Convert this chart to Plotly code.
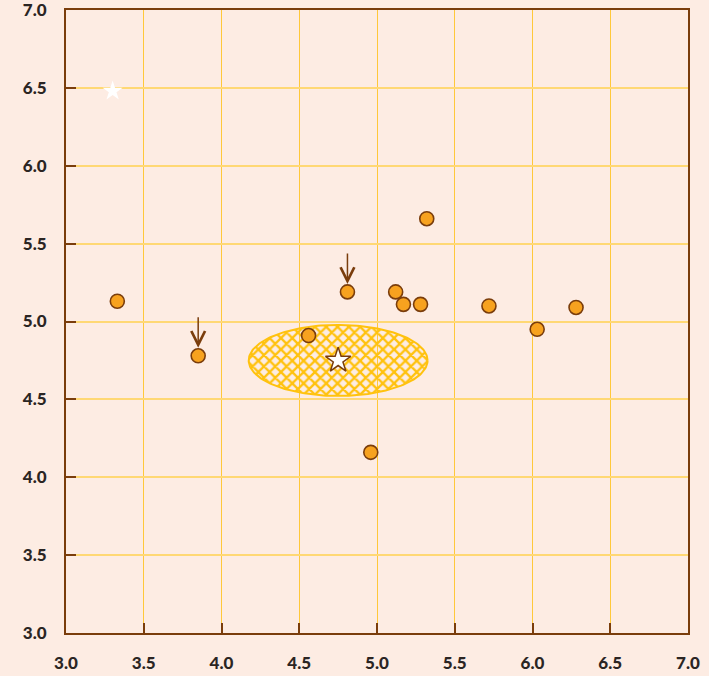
import numpy as np
import plotly.graph_objects as go

# data
pts_x = [3.33, 3.85, 4.56, 4.81, 5.12, 5.17, 5.28, 5.32, 5.72, 6.03, 6.28, 4.96]
pts_y = [5.13, 4.78, 4.91, 5.19, 5.19, 5.11, 5.11, 5.66, 5.10, 4.95, 5.09, 4.16]
center_x, center_y = 4.75, 4.75
ellipse_rx, ellipse_ry = 0.575, 0.228
white_star_x, white_star_y = 3.30, 6.48
arrow_idx = [1, 3]
tick_vals = [3.0, 3.5, 4.0, 4.5, 5.0, 5.5, 6.0, 6.5, 7.0]
tick_text = ["3.0", "3.5", "4.0", "4.5", "5.0", "5.5", "6.0", "6.5", "7.0"]

BG = "#fdece3"
BROWN = "#7a3d0c"
GRID_H = "#ffd874"
GRID_V = "#ffc83a"
ORANGE = "#f7a21f"
YEL = "#ffc20e"

t = np.linspace(0, 2 * np.pi, 200)
ex = center_x + ellipse_rx * np.cos(t)
ey = center_y + ellipse_ry * np.sin(t)

fig = go.Figure()
fig.add_trace(go.Scatter(
    x=ex, y=ey, mode="lines", fill="toself",
    line=dict(color=YEL, width=2),
    fillcolor="rgba(0,0,0,0)",
    fillpattern=dict(shape="x", fgcolor=YEL, fgopacity=1, bgcolor="rgba(0,0,0,0)",
                     size=8, solidity=0.5),
    hoverinfo="skip", showlegend=False))
fig.add_trace(go.Scatter(
    x=pts_x, y=pts_y, mode="markers",
    marker=dict(size=14, color=ORANGE, line=dict(color=BROWN, width=1.6)),
    showlegend=False))
fig.add_trace(go.Scatter(
    x=[center_x], y=[center_y], mode="markers",
    marker=dict(symbol="star", size=19, color="white", line=dict(color=BROWN, width=1.5)),
    showlegend=False))
fig.add_trace(go.Scatter(
    x=[white_star_x], y=[white_star_y], mode="markers",
    marker=dict(symbol="star", size=15, color="white", line=dict(width=0)),
    showlegend=False))

for i in arrow_idx:
    fig.add_annotation(x=pts_x[i], y=pts_y[i], ax=0, ay=-40, xref="x", yref="y",
                       showarrow=True, arrowhead=5, arrowsize=1.8, arrowwidth=1.5,
                       arrowcolor=BROWN, standoff=8, text="")

axis_common = dict(
    range=[3.0, 7.0], tickvals=tick_vals, ticktext=tick_text,
    showline=True, mirror=True, linecolor=BROWN, linewidth=2,
    ticks="inside", ticklen=10, tickwidth=2, tickcolor=BROWN,
    showgrid=True, zeroline=False, automargin=False,
    ticklabeloverflow="allow",
    tickfont=dict(family="Lato", size=17, color="#2b2523", weight=900),
)
fig.update_xaxes(**axis_common, gridcolor=GRID_V, gridwidth=1.4, ticklabelstandoff=14)
fig.update_yaxes(**axis_common, gridcolor=GRID_H, gridwidth=2, ticklabelstandoff=14)

fig.update_layout(
    width=709, height=676,
    paper_bgcolor=BG, plot_bgcolor=BG,
    margin=dict(l=66, r=21, t=10, b=43, autoexpand=False),
)
fig.write_html("out.html", config={"displayModeBar": False},
               post_script="document.body.style.margin='0';")
